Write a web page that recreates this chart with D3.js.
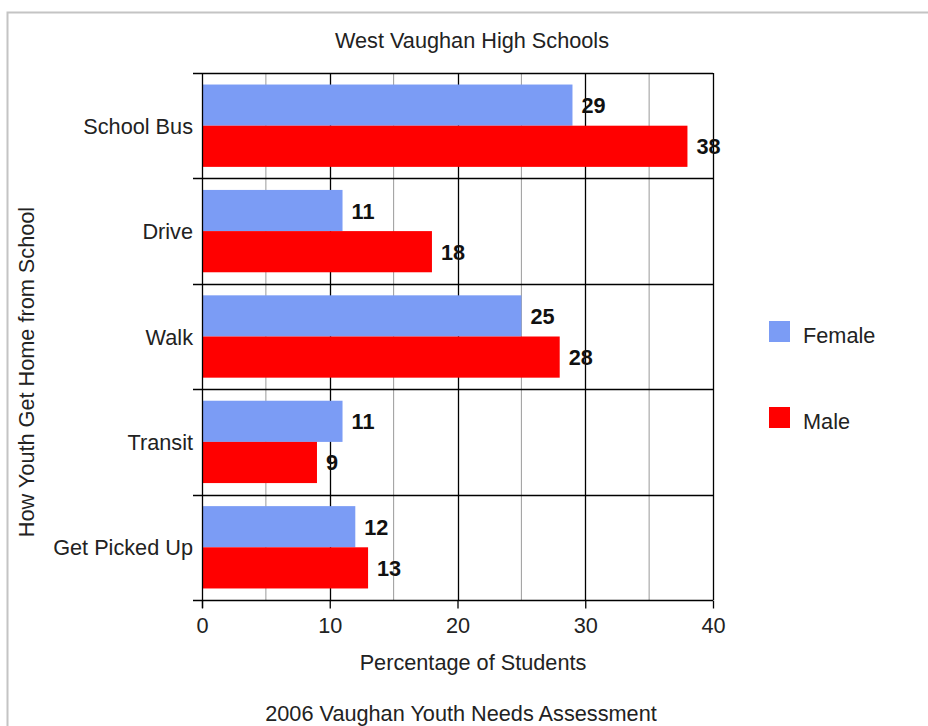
<!DOCTYPE html>
<html>
<head>
<meta charset="utf-8">
<script src="https://cdn.jsdelivr.net/npm/d3@7"></script>
<style>
  html, body { margin: 0; padding: 0; background: #fff; }
  svg { display: block; font-family: "Liberation Sans", Arial, sans-serif; }
</style>
</head>
<body>
<svg id="chart" width="928" height="726"></svg>
<script>
// Ways youth get home from school, by gender (percent of students)
const categories = ["School Bus", "Drive", "Walk", "Transit", "Get Picked Up"];
const femaleValues = [29, 11, 25, 11, 12];
const maleValues = [38, 18, 28, 9, 13];
const seriesNames = ["Female", "Male"];
const xTicks = [0, 10, 20, 30, 40];
const xMinorTicks = [5, 15, 25, 35];

const colors = { Female: "#7b9cf5", Male: "#ff0000" };
const FS = 21.7;

const svg = d3.select("#chart");

// outer frame
svg.append("path")
  .attr("d", "M7.5,726 L7.5,12.5 L928,12.5")
  .attr("fill", "none").attr("stroke", "#c4c4c4").attr("stroke-width", 2);

const plot = { left: 202, right: 713, top: 73, bottom: 600 };

const x = d3.scaleLinear().domain([0, 40]).range([plot.left, plot.right]);
const y = d3.scaleBand().domain(categories).range([plot.top, plot.bottom]);
const inner = d3.scaleBand().domain(seriesNames)
  .range([0, y.bandwidth()]).paddingOuter(0.28);

// minor vertical grid
svg.append("g").selectAll("line").data(xMinorTicks).join("line")
  .attr("x1", d => x(d)).attr("x2", d => x(d))
  .attr("y1", plot.top).attr("y2", plot.bottom)
  .attr("stroke", "#9a9a9a").attr("stroke-width", 1);

// major vertical grid
svg.append("g").selectAll("line").data(xTicks.slice(1)).join("line")
  .attr("x1", d => Math.round(x(d)) + 0.5).attr("x2", d => Math.round(x(d)) + 0.5)
  .attr("y1", plot.top).attr("y2", plot.bottom)
  .attr("stroke", "#000").attr("stroke-width", 1.3);

// bars with value labels
const rows = categories.map((c, i) => ({ cat: c, Female: femaleValues[i], Male: maleValues[i] }));
const barG = svg.append("g");
rows.forEach(r => {
  seriesNames.forEach(s => {
    const y0 = y(r.cat) + inner(s);
    barG.append("rect")
      .attr("x", x(0)).attr("y", y0)
      .attr("width", x(r[s]) - x(0)).attr("height", inner.bandwidth())
      .attr("fill", colors[s]);
    barG.append("text")
      .attr("x", x(r[s]) + 9).attr("y", y0 + inner.bandwidth() / 2 + 8)
      .attr("font-size", FS).attr("font-weight", "bold").attr("fill", "#111")
      .text(r[s]);
  });
});

// category separators (also act as y ticks)
const seps = categories.map(c => y(c)).concat([plot.bottom]);
svg.append("g").selectAll("line").data(seps).join("line")
  .attr("x1", plot.left - 9).attr("x2", plot.right)
  .attr("y1", d => Math.round(d) + 0.5).attr("y2", d => Math.round(d) + 0.5)
  .attr("stroke", "#000").attr("stroke-width", 1.3);

// left axis line
svg.append("line")
  .attr("x1", plot.left + 0.5).attr("x2", plot.left + 0.5)
  .attr("y1", plot.top).attr("y2", plot.bottom + 8)
  .attr("stroke", "#000").attr("stroke-width", 1.3);

// x axis
const xAxis = svg.append("g")
  .attr("transform", `translate(0,${plot.bottom + 0.5})`)
  .call(d3.axisBottom(x).tickValues(xTicks).tickSize(8).tickPadding(9));
xAxis.select(".domain").remove();
xAxis.selectAll(".tick line").attr("stroke", "#000").attr("stroke-width", 1.3);
xAxis.selectAll(".tick text")
  .attr("font-size", FS).attr("font-family", "Liberation Sans, Arial, sans-serif").attr("fill", "#222");

// category labels
svg.append("g").selectAll("text").data(categories).join("text")
  .attr("x", plot.left - 9).attr("y", d => y(d) + y.bandwidth() / 2 + 8)
  .attr("text-anchor", "end").attr("font-size", FS).attr("fill", "#222")
  .text(d => d);

// titles
svg.append("text").attr("x", 472).attr("y", 48).attr("text-anchor", "middle")
  .attr("font-size", FS).attr("fill", "#222").text("West Vaughan High Schools");
svg.append("text").attr("x", 473).attr("y", 670).attr("text-anchor", "middle")
  .attr("font-size", FS).attr("fill", "#222").text("Percentage of Students");
svg.append("text").attr("x", 461).attr("y", 721).attr("text-anchor", "middle")
  .attr("font-size", FS).attr("fill", "#222").text("2006 Vaughan Youth Needs Assessment");
svg.append("text")
  .attr("transform", "translate(34,372) rotate(-90)")
  .attr("text-anchor", "middle").attr("font-size", FS).attr("fill", "#222")
  .text("How Youth Get Home from School");

// legend
const legend = svg.append("g").selectAll("g").data(seriesNames).join("g")
  .attr("transform", (d, i) => `translate(769,${321 + i * 86})`);
legend.append("rect").attr("width", 21).attr("height", 21).attr("fill", d => colors[d]);
legend.append("text").attr("x", 34).attr("y", 22)
  .attr("font-size", FS).attr("fill", "#222").text(d => d);
</script>
</body>
</html>
